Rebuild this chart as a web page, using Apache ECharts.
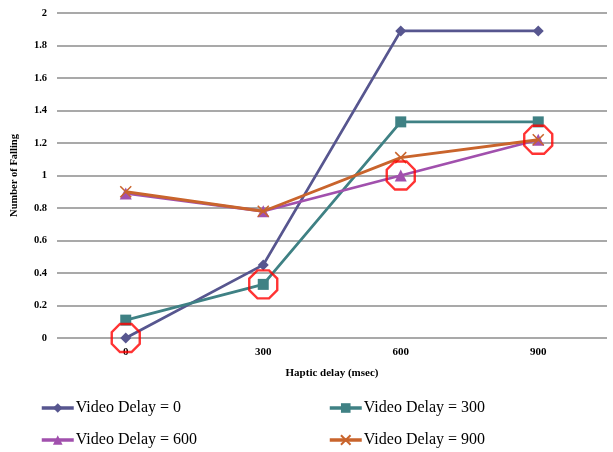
<!DOCTYPE html>
<html>
<head>
<meta charset="utf-8">
<script src="https://cdn.jsdelivr.net/npm/echarts@6/dist/echarts.min.js"></script>
<style>
  html, body { margin: 0; padding: 0; background: #fff; }
  #chart { width: 613px; height: 452px; }
</style>
</head>
<body>
<div id="chart"></div>
<script>
// Haptic delay categories (msec)
const hapticDelays = ['0', '300', '600', '900'];

// Mean number of falls for each video delay setting
const videoDelay0 = [0, 0.45, 1.89, 1.89];
const videoDelay300 = [0.11, 0.33, 1.33, 1.33];
const videoDelay600 = [0.89, 0.78, 1.0, 1.22];
const videoDelay900 = [0.9, 0.78, 1.11, 1.22];

const seriesNames = ['Video Delay = 0', 'Video Delay = 300', 'Video Delay = 600', 'Video Delay = 900'];
const seriesColors = ['#57568f', '#3f8184', '#a150ad', '#c9642c'];
const seriesSymbols = ['diamond', 'rect', 'triangle', 'path://M0,0 L10,10 M10,0 L0,10'];
const seriesSizes = [11, 11, 12, 11];
const seriesValues = [videoDelay0, videoDelay300, videoDelay600, videoDelay900];

// Points where video delay equals haptic delay are ringed
const matchedPoints = hapticDelays.map((c, i) => [i, seriesValues[i][i]]);

const octagon = (() => {
  const pts = [];
  for (let k = 0; k < 8; k++) {
    const a = Math.PI / 8 + k * Math.PI / 4;
    pts.push((50 + 50 * Math.cos(a)).toFixed(2) + ',' + (50 + 50 * Math.sin(a)).toFixed(2));
  }
  return 'path://M' + pts.join(' L') + ' Z';
})();

const serif = '"Liberation Serif", "DejaVu Serif", serif';

const lineSeries = seriesNames.map((name, i) => ({
  name,
  type: 'line',
  data: seriesValues[i],
  symbol: seriesSymbols[i],
  symbolSize: seriesSizes[i],
  showAllSymbol: true,
  lineStyle: { color: seriesColors[i], width: 2.8 },
  itemStyle: i === 3
    ? { color: seriesColors[i], borderColor: seriesColors[i], borderWidth: 1.5 }
    : { color: seriesColors[i] },
  z: 3 + i,
  animation: false
}));

// One legend block per series, laid out in two columns and two rows
const legendSpots = [[40, 400], [328, 400], [40, 432], [328, 432]];
const legends = seriesNames.map((name, i) => ({
  data: [name],
  left: legendSpots[i][0],
  top: legendSpots[i][1],
  padding: 0,
  itemWidth: 32, itemHeight: 12,
  lineStyle: { width: 3.5 },
  textStyle: { color: '#000', fontFamily: serif, fontSize: 16, padding: [0, 0, 0, -3] }
}));

const chart = echarts.init(document.getElementById('chart'), null, { renderer: 'canvas' });
chart.setOption({
  animation: false,
  grid: { left: 57, right: 6, top: 13, bottom: 114 },
  xAxis: {
    type: 'category',
    data: hapticDelays,
    boundaryGap: true,
    axisLine: { show: false },
    axisTick: { show: false },
    axisLabel: { color: '#000', fontFamily: serif, fontWeight: 'bold', fontSize: 11, margin: 9 },
    name: 'Haptic delay (msec)',
    nameLocation: 'middle',
    nameGap: 30,
    nameTextStyle: { color: '#000', fontFamily: serif, fontWeight: 'bold', fontSize: 11 }
  },
  yAxis: {
    type: 'value',
    min: 0,
    max: 2,
    interval: 0.2,
    axisLine: { show: false },
    axisTick: { show: false },
    splitLine: { lineStyle: { color: '#8c8c8c', width: 1.5 } },
    axisLabel: {
      color: '#000', fontFamily: serif, fontWeight: 'bold', fontSize: 10.5, margin: 10,
      formatter: v => String(Math.round(v * 10) / 10)
    },
    name: 'Number of Falling',
    nameLocation: 'middle',
    nameGap: 37,
    nameTextStyle: { color: '#000', fontFamily: serif, fontWeight: 'bold', fontSize: 10.5 }
  },
  legend: legends,
  series: lineSeries.concat([{
    name: 'matched',
    type: 'scatter',
    data: matchedPoints,
    symbol: octagon,
    symbolSize: 28,
    itemStyle: { color: 'rgba(0,0,0,0)', borderColor: '#ff0000', borderWidth: 2.4 },
    z: 10,
    silent: true
  }])
});
</script>
</body>
</html>
